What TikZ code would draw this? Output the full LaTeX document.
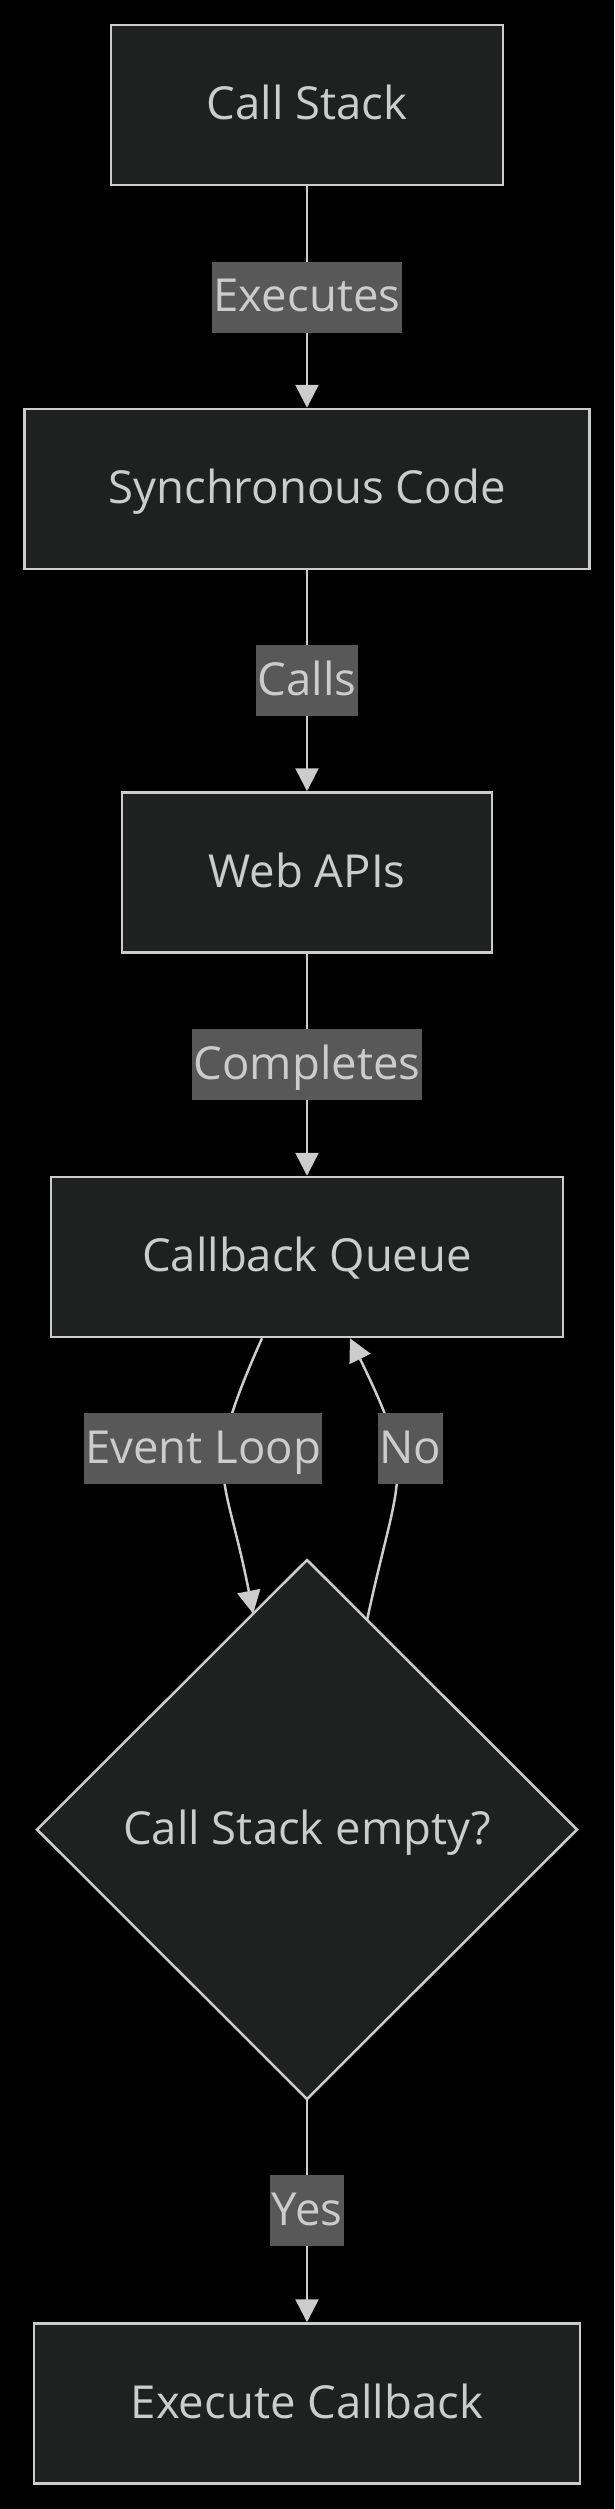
\documentclass[tikz,border=0pt]{standalone}
\usepackage{fontspec}
\setmainfont{Open Sans}
\usetikzlibrary{shapes.geometric,arrows.meta}
\definecolor{nodebg}{HTML}{1F2020}
\definecolor{nodeline}{HTML}{CCCCCC}
\definecolor{labelbg}{HTML}{585858}
\definecolor{labeltext}{HTML}{CCCCCC}
\begin{document}
\begin{tikzpicture}[x=1pt,y=-1pt,
		txt/.style={text=labeltext,font=\fontsize{45.5}{55}\selectfont,text height=40pt,text depth=11pt},
		box/.style={txt,draw=nodeline,fill=nodebg,line width=2.5pt,minimum height=160pt,inner sep=0pt},
		decision/.style={box,diamond,minimum width=540pt,minimum height=539pt,outer sep=0pt},
		edgelabel/.style={txt,fill=labelbg,inner xsep=1.5pt,inner ysep=0pt,minimum height=71pt},
		link/.style={draw=nodeline,line width=2.5pt,-{Triangle[width=23pt,length=23pt]}}]
	\fill[black] (0,0) rectangle (614,2509);
	\node[box,minimum width=392pt] (stack) at (307,105) {Call Stack};
	\node[box,minimum width=565pt] (sync) at (307,489) {Synchronous Code};
	\node[box,minimum width=370pt] (webapi) at (307,872.5) {Web APIs};
	\node[box,minimum width=512pt] (queue) at (307,1257) {Callback Queue};
	\node[decision] (check) at (307,1829.5) {Call Stack empty?};
	\node[box,minimum width=546pt] (exec) at (307,2403.5) {Execute Callback};
	\draw[link] (stack) -- node[edgelabel] (executes) {Executes} (sync);
	\draw[link] (sync) -- node[edgelabel] (calls) {Calls} (webapi);
	\draw[link] (webapi) -- node[edgelabel] (completes) {Completes} (queue);
	\draw[link] ([xshift=-45pt]queue.south) to[out=-114,in=101,looseness=1.4] (check.104.8);
	\draw[link] (check.74.4) to[out=78,in=-64,looseness=1.4] ([xshift=43pt]queue.south);
	\node[edgelabel] (loop) at (203,1448.5) {Event Loop};
	\node[edgelabel] (no) at (410.5,1448.5) {No};
	\draw[link] (check) -- node[edgelabel] (yes) {Yes} (exec);
\end{tikzpicture}
\end{document}
